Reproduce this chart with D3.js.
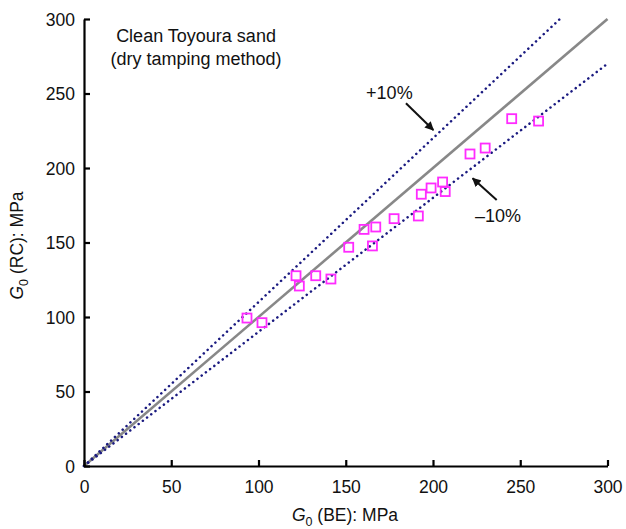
<!DOCTYPE html>
<html>
<head>
<meta charset="utf-8">
<script src="https://cdn.jsdelivr.net/npm/d3@7"></script>
<style>
  html, body { margin: 0; padding: 0; background: #fff; }
  svg { display: block; font-family: "Liberation Sans", Arial, Helvetica, sans-serif; }
</style>
</head>
<body>
<svg id="chart" width="626" height="529"></svg>
<script>
// ---- data ----
const xTicks = [0, 50, 100, 150, 200, 250, 300];
const yTicks = [0, 50, 100, 150, 200, 250, 300];
const beValues = [93.4, 102.0, 121.5, 123.4, 132.8, 141.5, 151.7, 160.5, 165.3, 167.2, 177.7, 191.6, 193.3, 198.9, 205.5, 207.0, 221.2, 229.9, 245.1, 260.5];
const rcValues = [99.3, 96.2, 127.7, 120.8, 127.7, 125.5, 146.8, 158.8, 147.7, 160.4, 166.0, 167.8, 182.4, 186.6, 190.6, 184.2, 209.4, 213.4, 233.1, 231.5];
const refLines = [
  { name: "equal", factor: 1.0 },
  { name: "+10%", factor: 1.1 },
  { name: "-10%", factor: 0.9 }
];
const noteLines = ["Clean Toyoura sand", "(dry tamping method)"];
const noteAnchor = [64.2, 284.6, 269.1];           // x, y line1, y line2 (data units)
const plusLabel = { text: "+10%", x: 175, y: 246.1, from: [184.5, 243.4], to: [200.2, 225.5] };
const minusLabel = { text: "\u201310%", x: 237.2, y: 164.0, from: [236.5, 178.5], to: [222.7, 193.1] };

// ---- setup ----
const svg = d3.select("#chart");
const x = d3.scaleLinear().domain([0, 300]).range([84, 607.5]);
const y = d3.scaleLinear().domain([0, 300]).range([466, 19]);

svg.append("defs").append("marker")
  .attr("id", "arrow")
  .attr("viewBox", "0 0 10 10")
  .attr("refX", 9).attr("refY", 5)
  .attr("markerWidth", 9).attr("markerHeight", 9)
  .attr("markerUnits", "userSpaceOnUse")
  .attr("orient", "auto")
  .append("path").attr("d", "M0,0 L10,5 L0,10 Z").attr("fill", "#111");

// reference lines
refLines.forEach(r => {
  const xEnd = Math.min(300, 300 / r.factor);
  const ln = svg.append("line")
    .attr("x1", x(0)).attr("y1", y(0))
    .attr("x2", x(xEnd)).attr("y2", y(xEnd * r.factor));
  if (r.factor === 1) {
    ln.attr("stroke", "#888").attr("stroke-width", 2.6);
  } else {
    ln.attr("stroke", "#1a1a80").attr("stroke-width", 2.5)
      .attr("stroke-dasharray", "0.1,5.2").attr("stroke-linecap", "round");
  }
});

// points
const pts = beValues.map((v, i) => [v, rcValues[i]]);
const sq = 9;
svg.append("g").selectAll("rect").data(pts).join("rect")
  .attr("x", d => x(d[0]) - sq / 2)
  .attr("y", d => y(d[1]) - sq / 2)
  .attr("width", sq).attr("height", sq)
  .attr("fill", "none")
  .attr("stroke", "#ff2bff")
  .attr("stroke-width", 1.8);

// axes
const xAxis = svg.append("g").attr("transform", `translate(0,${y(0)})`)
  .call(d3.axisBottom(x).tickValues(xTicks).tickSizeInner(-6).tickSizeOuter(0).tickPadding(10));
const yAxis = svg.append("g").attr("transform", `translate(${x(0)},0)`)
  .call(d3.axisLeft(y).tickValues(yTicks).tickSizeInner(-6).tickSizeOuter(0).tickPadding(9));
[xAxis, yAxis].forEach(a => {
  a.select(".domain").attr("stroke", "#000").attr("stroke-width", 2.2);
  a.selectAll(".tick line").attr("stroke", "#000").attr("stroke-width", 2.2);
  a.selectAll(".tick text").attr("fill", "#111").style("font-size", "17.5px")
    .style("font-family", "'Liberation Sans', Arial, sans-serif");
});
xAxis.selectAll(".tick text").attr("dy", "0.95em");
yAxis.selectAll(".tick text").attr("dy", "0.36em");

// axis titles
const xt = svg.append("text").attr("x", 345).attr("y", 521)
  .attr("text-anchor", "middle").style("font-size", "17.5px").attr("fill", "#111");
xt.append("tspan").style("font-style", "italic").text("G");
xt.append("tspan").attr("dy", 5).style("font-size", "12.5px").text("0");
xt.append("tspan").attr("dy", -5).text(" (BE): MPa");

const yt = svg.append("text")
  .attr("transform", `translate(23,${y(148)}) rotate(-90)`)
  .attr("text-anchor", "middle").style("font-size", "17.5px").attr("fill", "#111");
yt.append("tspan").style("font-style", "italic").text("G");
yt.append("tspan").attr("dy", 5).style("font-size", "12.5px").text("0");
yt.append("tspan").attr("dy", -5).text(" (RC): MPa");

// annotations
noteLines.forEach((t, i) => {
  svg.append("text").attr("x", x(noteAnchor[0])).attr("y", y(noteAnchor[1 + i]))
    .attr("text-anchor", "middle").style("font-size", "18px").attr("fill", "#111").text(t);
});
[plusLabel, minusLabel].forEach(l => {
  svg.append("text").attr("x", x(l.x)).attr("y", y(l.y))
    .attr("text-anchor", "middle").style("font-size", "18px").attr("fill", "#111").text(l.text);
  svg.append("line")
    .attr("x1", x(l.from[0])).attr("y1", y(l.from[1]))
    .attr("x2", x(l.to[0])).attr("y2", y(l.to[1]))
    .attr("stroke", "#111").attr("stroke-width", 2)
    .attr("marker-end", "url(#arrow)");
});
</script>
</body>
</html>
